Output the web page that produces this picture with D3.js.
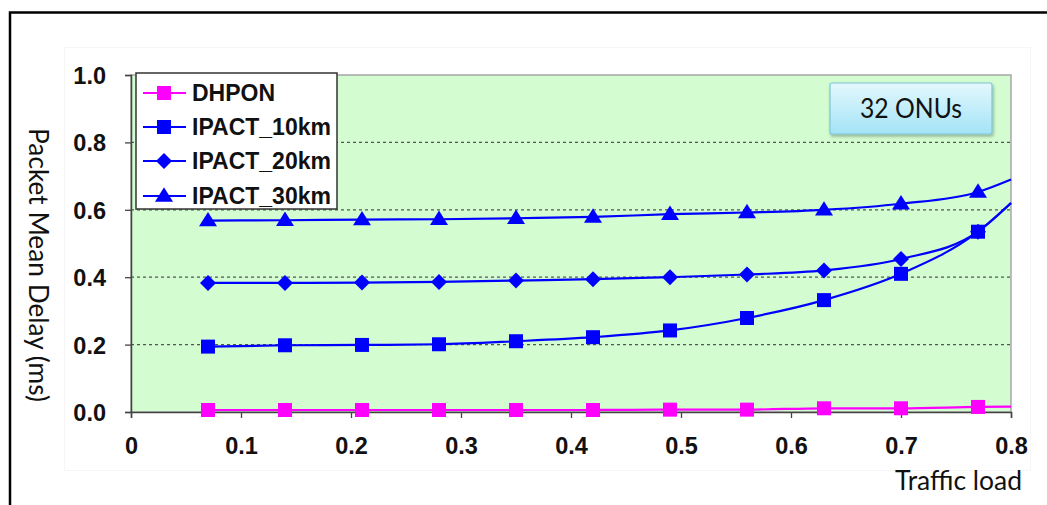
<!DOCTYPE html>
<html>
<head>
<meta charset="utf-8">
<script src="https://cdn.jsdelivr.net/npm/d3@7"></script>
<style>
  html, body { margin: 0; padding: 0; background: #fff; }
  svg { display: block; }
</style>
</head>
<body>
<svg id="chart" width="1047" height="505"></svg>
<script>
// ---- data ----
const loads = [0.07, 0.14, 0.21, 0.28, 0.35, 0.42, 0.49, 0.56, 0.63, 0.70, 0.77];
const dhpon   = [0.006, 0.006, 0.006, 0.006, 0.006, 0.006, 0.007, 0.007, 0.011, 0.011, 0.015];
const ipact10 = [0.194, 0.198, 0.199, 0.201, 0.210, 0.222, 0.242, 0.279, 0.332, 0.410, 0.535];
const ipact20 = [0.383, 0.383, 0.384, 0.386, 0.390, 0.394, 0.400, 0.408, 0.420, 0.454, 0.535];
const ipact30 = [0.568, 0.569, 0.571, 0.572, 0.575, 0.579, 0.587, 0.592, 0.600, 0.618, 0.653];
// line (trend) end values at load 0.8, no marker
const endLoad = 0.8;
const endValues = [0.016, 0.62, 0.62, 0.69];
const seriesNames = ["DHPON", "IPACT_10km", "IPACT_20km", "IPACT_30km"];
const seriesColors = ["#ff00ff", "#0000ff", "#0000ff", "#0000ff"];
const seriesMarkers = ["square", "square", "diamond", "triangle"];
const xTicks = [0, 0.1, 0.2, 0.3, 0.4, 0.5, 0.6, 0.7, 0.8];
const xTickLabels = ["0", "0.1", "0.2", "0.3", "0.4", "0.5", "0.6", "0.7", "0.8"];
const yTicks = [0, 0.2, 0.4, 0.6, 0.8, 1.0];
const yTickLabels = ["0.0", "0.2", "0.4", "0.6", "0.8", "1.0"];
const yTitle = "Packet Mean Delay (ms)";
const xTitle = "Traffic load";
const annotation = "32 ONUs";

const svg = d3.select("#chart");
const m = { left: 131, top: 75, width: 880, height: 337 };

const x = d3.scaleLinear().domain([0, 0.8]).range([m.left, m.left + m.width]);
const y = d3.scaleLinear().domain([0, 1.0]).range([m.top + m.height, m.top]);

const defs = svg.append("defs");
const grad = defs.append("linearGradient").attr("id", "boxGrad").attr("x1", 0).attr("y1", 0).attr("x2", 0).attr("y2", 1);
grad.append("stop").attr("offset", "0%").attr("stop-color", "#e4f8fd");
grad.append("stop").attr("offset", "100%").attr("stop-color", "#a3e3f7");
const filt = defs.append("filter").attr("id", "shadow").attr("x", "-10%").attr("y", "-10%").attr("width", "130%").attr("height", "140%");
filt.append("feDropShadow").attr("dx", 1).attr("dy", 2).attr("stdDeviation", 1.5).attr("flood-color", "#000").attr("flood-opacity", 0.3);

// outer frame
svg.append("rect").attr("x", 10).attr("y", 12.5).attr("width", 1100).attr("height", 600)
  .attr("fill", "none").attr("stroke", "#000").attr("stroke-width", 2.5);
// faint chart area border
svg.append("rect").attr("x", 64.5).attr("y", 47.5).attr("width", 966).attr("height", 423)
  .attr("fill", "none").attr("stroke", "#f6f6f6").attr("stroke-width", 1);

// plot area
svg.append("rect").attr("x", m.left).attr("y", m.top).attr("width", m.width).attr("height", m.height)
  .attr("fill", "#d3fcd0").attr("stroke", "#a6a6a6").attr("stroke-width", 1.5);

// grid lines
svg.append("g").selectAll("line").data(yTicks.filter(t => t > 0 && t < 1))
  .join("line")
  .attr("x1", m.left).attr("x2", m.left + m.width)
  .attr("y1", d => y(d)).attr("y2", d => y(d))
  .attr("stroke", "#555").attr("stroke-width", 1.3).attr("stroke-dasharray", "3,3");

// axes
const yAxis = d3.axisLeft(y).tickValues(yTicks).tickSize(6).tickFormat((d, i) => yTickLabels[i]);
const gy = svg.append("g").attr("transform", `translate(${m.left},0)`).call(yAxis);
gy.select(".domain").attr("stroke", "#444").attr("stroke-width", 1.5);
gy.selectAll(".tick line").attr("stroke", "#444").attr("stroke-width", 1.3);
gy.selectAll(".tick text").attr("x", -25).attr("dy", "0.36em")
  .attr("font-family", "Liberation Sans, Arial, sans-serif").attr("font-weight", "bold")
  .attr("font-size", 23.5).attr("fill", "#111");

const xAxis = d3.axisBottom(x).tickValues(xTicks).tickSize(6).tickFormat((d, i) => xTickLabels[i]);
const gx = svg.append("g").attr("transform", `translate(0,${m.top + m.height})`).call(xAxis);
gx.select(".domain").attr("stroke", "#444").attr("stroke-width", 1.5);
gx.selectAll(".tick line").attr("stroke", "#444").attr("stroke-width", 1.3);
gx.selectAll(".tick text").attr("y", 34).attr("dy", "0.36em")
  .attr("font-family", "Liberation Sans, Arial, sans-serif").attr("font-weight", "bold")
  .attr("font-size", 23.5).attr("fill", "#111");

// markers
function markerPath(type, size) {
  if (type === "square") return d3.symbol().type(d3.symbolSquare).size(size * size)();
  if (type === "diamond") {
    const s = size / 2;
    return `M0,${-s}L${s},0L0,${s}L${-s},0Z`;
  }
  if (type === "triangle") {
    const h = size * 0.9, w = size / 2 + 1;
    return `M0,${-h * 0.6}L${w},${h * 0.4}L${-w},${h * 0.4}Z`;
  }
}
const markerSize = { square: 14, diamond: 16, triangle: 16 };

const allValues = [dhpon, ipact10, ipact20, ipact30];
const line = d3.line().x(d => x(d[0])).y(d => y(d[1])).curve(d3.curveMonotoneX);

[3, 2, 1, 0].forEach(i => {
  const pts = loads.map((l, j) => [l, allValues[i][j]]);
  const linePts = pts.concat([[endLoad, endValues[i]]]);
  const g = svg.append("g");
  g.append("path").datum(linePts).attr("d", line)
    .attr("fill", "none").attr("stroke", seriesColors[i]).attr("stroke-width", 2.2);
  g.selectAll("path.mk").data(pts).join("path").attr("class", "mk")
    .attr("transform", d => `translate(${x(d[0])},${y(d[1])})`)
    .attr("d", markerPath(seriesMarkers[i], markerSize[seriesMarkers[i]]))
    .attr("fill", seriesColors[i]);
});

// legend
const lg = svg.append("g");
lg.append("rect").attr("x", 136).attr("y", 73).attr("width", 201).attr("height", 136)
  .attr("fill", "#fff").attr("stroke", "#333").attr("stroke-width", 1.5);
const legendY = [93, 127, 161, 196];
seriesNames.forEach((name, i) => {
  lg.append("line").attr("x1", 143).attr("x2", 186).attr("y1", legendY[i]).attr("y2", legendY[i])
    .attr("stroke", seriesColors[i]).attr("stroke-width", 2.2);
  lg.append("path").attr("transform", `translate(164,${legendY[i]})`)
    .attr("d", markerPath(seriesMarkers[i], markerSize[seriesMarkers[i]]))
    .attr("fill", seriesColors[i]);
  lg.append("text").attr("x", 192).attr("y", legendY[i]).attr("dy", "0.36em")
    .attr("font-family", "Liberation Sans, Arial, sans-serif").attr("font-weight", "bold")
    .attr("font-size", 23).attr("fill", "#111").text(name);
});

// annotation box
svg.append("rect").attr("x", 830).attr("y", 83).attr("width", 162).attr("height", 51).attr("rx", 2)
  .attr("fill", "url(#boxGrad)").attr("stroke", "#7cc6d7").attr("stroke-width", 1.2)
  .attr("filter", "url(#shadow)");
svg.append("text").attr("x", 911).attr("y", 109).attr("dy", "0.35em").attr("text-anchor", "middle")
  .attr("font-family", "Lato, 'Open Sans', sans-serif").attr("font-size", 27).attr("fill", "#111")
  .attr("textLength", 102).attr("lengthAdjust", "spacingAndGlyphs")
  .text(annotation);

// axis titles
svg.append("text").attr("transform", "translate(38,265) rotate(90)")
  .attr("text-anchor", "middle").attr("dy", "0.35em")
  .attr("font-family", "Lato, 'Open Sans', sans-serif").attr("font-size", 26).attr("fill", "#111")
  .attr("textLength", 274).attr("lengthAdjust", "spacingAndGlyphs")
  .text(yTitle);
svg.append("text").attr("x", 1022).attr("y", 481).attr("dy", "0.35em").attr("text-anchor", "end")
  .attr("font-family", "Lato, 'Open Sans', sans-serif").attr("font-size", 26).attr("fill", "#111")
  .attr("textLength", 127).attr("lengthAdjust", "spacingAndGlyphs")
  .text(xTitle);
</script>
</body>
</html>
